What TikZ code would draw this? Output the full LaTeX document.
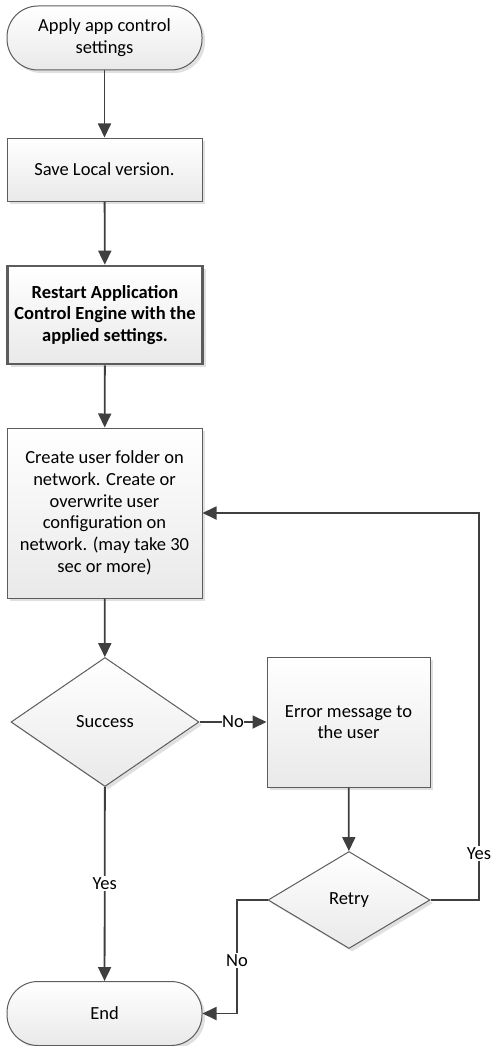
\documentclass[tikz,border=0pt]{standalone}
\usepackage{fontspec}
\setmainfont{Carlito}
\usetikzlibrary{shapes.geometric,shadows,arrows.meta}

\definecolor{linegray}{HTML}{3F3F3F}
\definecolor{shadegray}{HTML}{E9E9E9}

\begin{document}
\begin{tikzpicture}[x=1pt,y=-1pt]

  % Set up styles for the flow chart
  \tikzset{
      box/.style={rectangle, draw=linegray!85, line width=1pt, top color=white, bottom color=shadegray,
                  drop shadow={shadow xshift=3pt, shadow yshift=-3pt, fill=black!12, opacity=1},
                  align=center, inner sep=0pt, font=\fontsize{18.5}{21.7}\selectfont},
      terminal/.style={box, rounded corners=31pt, minimum width=195pt, minimum height=64pt},
      process/.style={box, minimum width=195pt},
      decision/.style={box, diamond, inner sep=0pt},
      flow/.style={draw=linegray, line width=1.8pt, -{Triangle[width=13pt,length=14pt]}},
      answer/.style={fill=white, inner sep=1.5pt, font=\fontsize{18.5}{20}\selectfont}
  }

  \useasboundingbox (0,0) rectangle (495,1046);

  % Main column of steps
  \node[terminal] (start) at (104.5,38) {Apply app control\\settings};
  \node[process, minimum height=63pt] (save) at (104.5,169.5) {Save Local version.};
  \node[process, minimum height=98pt, line width=2.6pt, font=\fontsize{18.5}{21.7}\selectfont\bfseries]
      (restart) at (105,315) {Restart Application\\Control Engine with the\\applied settings.};
  \node[process, minimum height=170pt] (create) at (104.5,513)
      {Create user folder on\\network. Create or\\overwrite user\\configuration on\\network. (may take 30\\sec or more)};
  \node[decision, minimum width=188pt, minimum height=129pt] (success) at (105,722) {Success};
  \node[terminal] (end) at (104.5,1013.5) {End};

  % Error branch
  \node[box, minimum width=163pt, minimum height=130pt] (error) at (348.5,722) {Error message to\\the user};
  \node[decision, minimum width=162pt, minimum height=97pt] (retry) at (349,900) {Retry};

  \coordinate (loopdown) at (479,900);
  \coordinate (loopup) at (479,513);
  \coordinate (noleft) at (237,900);

  % Connectors
  \draw[flow] (start) -- (save);
  \draw[flow] (save) -- (restart);
  \draw[flow] (restart) -- (create);
  \draw[flow] (create) -- (success);
  \draw[flow] (success) -- node[answer] {Yes} (end);
  \draw[flow] (success) -- node[answer, inner sep=0.5pt] {No} (error);
  \draw[flow] (error) -- (retry);
  \draw[flow] (retry.east) -- (loopdown) -- node[answer, pos=0.12] {Yes} (loopup) -- (create.east);
  \draw[flow] (retry.west) -- (noleft) |- node[answer, pos=0.265] {No} (end.east);

\end{tikzpicture}
\end{document}
